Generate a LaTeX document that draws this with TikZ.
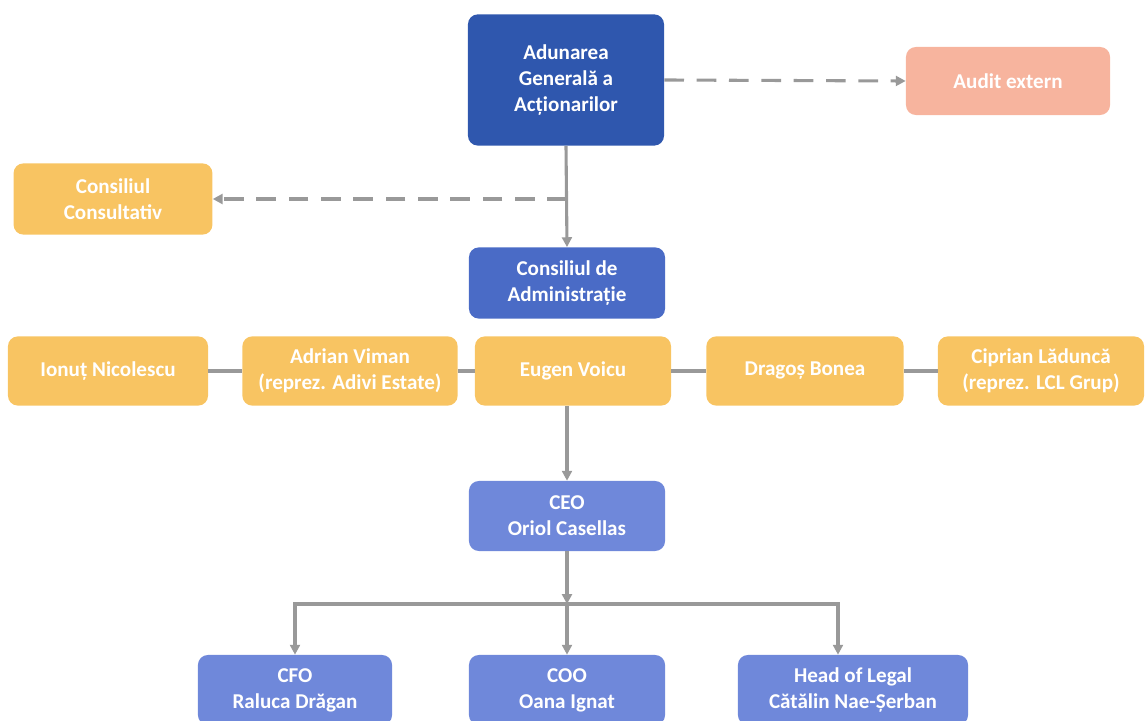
\documentclass[tikz,border=0pt]{standalone}
\usepackage{fontspec}
\setmainfont{Carlito}
\usetikzlibrary{arrows.meta, positioning}
\definecolor{agablue}{HTML}{2F57AE}
\definecolor{cablue}{HTML}{4A6BC6}
\definecolor{ceoblue}{HTML}{6F88DA}
\definecolor{auditpink}{HTML}{F7B49E}
\definecolor{boardorange}{HTML}{F8C462}
\definecolor{linegray}{HTML}{999999}
\begin{document}
\begin{tikzpicture}[x=0.025cm, y=-0.025cm,
  orgbox/.style={rounded corners=7pt, draw=none, text=white, align=center, font=\fontsize{15}{18.5}\selectfont\bfseries, inner sep=0pt},
  link/.style={line width=2.2pt, color=linegray},
  tip/.style={-{Triangle[length=7pt, width=7pt]}}]
\useasboundingbox (0,0) rectangle (1145,721);
\node[orgbox, fill=agablue, minimum width=4.9cm, minimum height=3.28cm] at (566, 80) (aga) {Adunarea\\Generală a\\Acționarilor};
\node[orgbox, fill=auditpink, minimum width=5.1cm, minimum height=1.7cm] at (1008, 81) (audit) {Audit extern};
\node[orgbox, fill=boardorange, minimum width=4.97cm, minimum height=1.78cm] at (113, 199) (consult) {Consiliul\\Consultativ};
\node[orgbox, fill=cablue, minimum width=4.9cm, minimum height=1.78cm] at (567, 283) (ca) {Consiliul de\\Administrație};
\coordinate (split1) at (567, 199);
\draw[link, dashed, dash pattern=on 14pt off 9pt, tip] (aga.east) -- (audit.west);
\draw[link, tip] (aga.south) -- (ca.north);
\draw[link, dashed, dash pattern=on 14pt off 9pt, tip] (split1) -- (consult.east);
% board members
\node[orgbox, fill=boardorange, minimum width=5.0cm, minimum height=1.73cm] at (108, 371) (ionut) {Ionuț Nicolescu};
\node[orgbox, fill=boardorange, minimum width=5.38cm, minimum height=1.73cm] at (350, 371) (adrian) {Adrian Viman\\(reprez. Adivi Estate)};
\node[orgbox, fill=boardorange, minimum width=4.9cm, minimum height=1.73cm] at (573, 371) (eugen) {Eugen Voicu};
\node[orgbox, fill=boardorange, minimum width=4.93cm, minimum height=1.73cm] at (805, 371) (dragos) {Dragoș Bonea};
\node[orgbox, fill=boardorange, minimum width=5.15cm, minimum height=1.73cm] at (1041, 371) (ciprian) {Ciprian Lăduncă\\(reprez. LCL Grup)};
\draw[link] (ionut) -- (adrian);
\draw[link] (adrian) -- (eugen);
\draw[link] (eugen) -- (dragos);
\draw[link] (dragos) -- (ciprian);
% executives
\node[orgbox, fill=ceoblue, minimum width=4.9cm, minimum height=1.75cm] at (567, 516) (ceo) {CEO\\Oriol Casellas};
\draw[link, tip] (eugen.south -| ceo) -- (ceo.north);
\node[orgbox, fill=ceoblue, minimum width=4.85cm, minimum height=1.75cm] at (295, 690) (cfo) {CFO\\Raluca Drăgan};
\node[orgbox, fill=ceoblue, minimum width=4.9cm, minimum height=1.75cm] at (567, 690) (coo) {COO\\Oana Ignat};
\node[orgbox, fill=ceoblue, minimum width=5.75cm, minimum height=1.75cm] at (853, 690) (legal) {Head of Legal\\Cătălin Nae-Șerban};
\coordinate (split2) at (567, 604);
\draw[link, tip] (ceo.south) -- (split2);
\draw[link, tip] (split2) -- (coo.north);
\draw[link, tip] (split2) -| (cfo.north);
\draw[link, tip] (split2) -| ([xshift=-0.375cm]legal.north);
\end{tikzpicture}
\end{document}
